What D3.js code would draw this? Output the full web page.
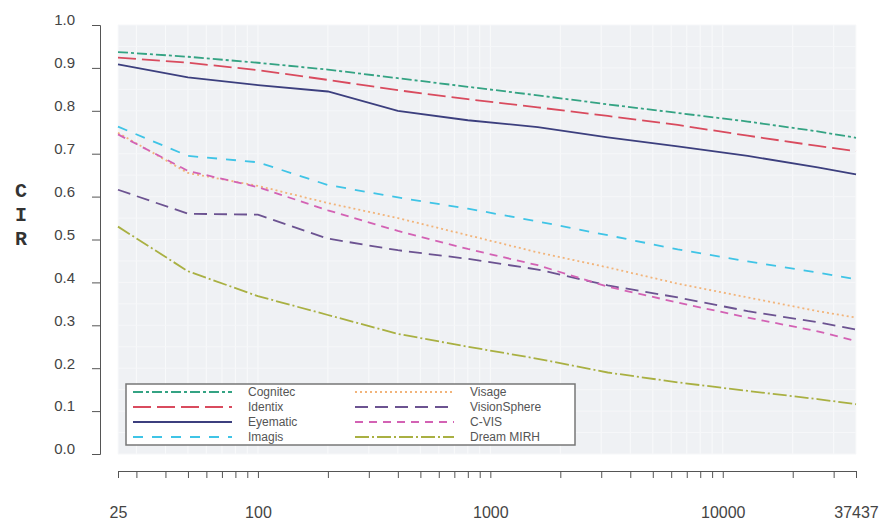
<!DOCTYPE html>
<html>
<head>
<meta charset="utf-8">
<script src="https://cdn.jsdelivr.net/npm/d3@7"></script>
<style>
  body { margin: 0; background: #fff; }
  .axis text { font-family: "Liberation Sans", Arial, sans-serif; fill: #444; }
  .axis path, .axis line { stroke: #555; }
</style>
</head>
<body>
<svg id="chart" width="882" height="526"></svg>
<script>
// gallery size (rank)
var ranks = [25, 50, 100, 200, 400, 800, 1600, 3200, 6400, 12800, 25600, 37437];

// CIR per system
var cognitec     = [0.937, 0.926, 0.912, 0.896, 0.876, 0.856, 0.836, 0.815, 0.795, 0.775, 0.752, 0.737];
var identix      = [0.924, 0.912, 0.895, 0.872, 0.848, 0.827, 0.808, 0.788, 0.767, 0.742, 0.718, 0.706];
var eyematic     = [0.908, 0.878, 0.860, 0.845, 0.800, 0.778, 0.762, 0.738, 0.717, 0.695, 0.668, 0.652];
var imagis       = [0.763, 0.695, 0.680, 0.627, 0.598, 0.572, 0.542, 0.510, 0.477, 0.449, 0.423, 0.407];
var visage       = [0.749, 0.655, 0.625, 0.585, 0.550, 0.510, 0.470, 0.435, 0.397, 0.365, 0.333, 0.318];
var visionsphere = [0.616, 0.560, 0.558, 0.502, 0.475, 0.455, 0.430, 0.393, 0.365, 0.333, 0.307, 0.290];
var cvis         = [0.745, 0.660, 0.622, 0.568, 0.520, 0.478, 0.440, 0.390, 0.353, 0.318, 0.286, 0.263];
var dreamMirh    = [0.530, 0.426, 0.368, 0.324, 0.280, 0.250, 0.222, 0.190, 0.167, 0.147, 0.128, 0.116];

var names = ["Cognitec", "Identix", "Eyematic", "Imagis", "Visage", "VisionSphere", "C-VIS", "Dream MIRH"];

// axis ticks
var yTicks = [0, 0.1, 0.2, 0.3, 0.4, 0.5, 0.6, 0.7, 0.8, 0.9, 1.0];
var xTicks = [25, 30, 40, 50, 60, 70, 80, 90, 100, 200, 300, 400, 500, 600, 700, 800, 900,
              1000, 2000, 3000, 4000, 5000, 6000, 7000, 8000, 9000, 10000, 20000, 30000, 37437];
var xLabels = [25, 100, 1000, 10000, 37437];

var series = [cognitec, identix, eyematic, imagis, visage, visionsphere, cvis, dreamMirh];
var colors = ["#34a383", "#d94b5e", "#3c3f7e", "#3fc4e6", "#f2b47a", "#6c5391", "#d362b4", "#a9b042"];
var dashes = ["10,3,3,3", "18,6", null, "10,9", "2,3", "13,7", "8,6", "14,3,2,3"];

var svg = d3.select("#chart");

var x = d3.scaleLog().domain([25, 37437]).range([118, 856]);
var y = d3.scaleLinear().domain([0, 1]).range([454, 25]);

// plot background
svg.append("rect")
    .attr("x", x(25)).attr("y", y(1))
    .attr("width", x(37437) - x(25))
    .attr("height", y(0) - y(1))
    .attr("fill", "#eff1f4");

// faint grid
svg.append("g").selectAll("line")
    .data(xTicks)
  .enter().append("line")
    .attr("x1", function(d){ return x(d); }).attr("x2", function(d){ return x(d); })
    .attr("y1", y(1)).attr("y2", y(0))
    .attr("stroke", "#f9fafb").attr("stroke-width", 1);

svg.append("g").selectAll("line")
    .data(d3.range(0, 1.0001, 0.05))
  .enter().append("line")
    .attr("x1", x(25)).attr("x2", x(37437))
    .attr("y1", function(d){ return y(d); }).attr("y2", function(d){ return y(d); })
    .attr("stroke", "#f6f7f9").attr("stroke-width", 1);

// Y axis
var yAxis = svg.append("g")
    .attr("class", "axis")
    .attr("transform", "translate(100,0)")
    .call(d3.axisLeft(y).tickValues(yTicks).tickSize(8).tickSizeOuter(8).tickPadding(17)
        .tickFormat(d3.format(".1f")));
yAxis.selectAll("text").attr("font-size", "15px").attr("y", -5);

// X axis
var xAxis = svg.append("g")
    .attr("class", "axis")
    .attr("transform", "translate(0,471)")
    .call(d3.axisBottom(x).tickValues(xTicks).tickSize(7).tickSizeOuter(7).tickPadding(29)
        .tickFormat(function(d){ return xLabels.indexOf(d) >= 0 ? d : ""; }));
xAxis.selectAll("text").attr("font-size", "16px");

// Y label, stacked letters
svg.append("g").selectAll("text")
    .data(["C", "I", "R"])
  .enter().append("text")
    .attr("x", 21)
    .attr("y", function(d, i){ return 197 + i * 24; })
    .attr("text-anchor", "middle")
    .attr("font-family", "Liberation Mono, Courier New, monospace")
    .attr("font-weight", "bold")
    .attr("font-size", "20px")
    .attr("fill", "#333")
    .text(function(d){ return d; });

// lines
var line = d3.line()
    .x(function(d, i){ return x(ranks[i]); })
    .y(function(d){ return y(d); });

svg.append("g").selectAll("path")
    .data(series)
  .enter().append("path")
    .attr("d", line)
    .attr("fill", "none")
    .attr("stroke", function(d, i){ return colors[i]; })
    .attr("stroke-width", 1.8)
    .attr("stroke-dasharray", function(d, i){ return dashes[i]; });

// legend
var legend = svg.append("g");
legend.append("rect")
    .attr("x", 126).attr("y", 384)
    .attr("width", 449).attr("height", 61)
    .attr("fill", "#fff")
    .attr("stroke", "#777").attr("stroke-width", 1.5);

var items = legend.selectAll("g.item")
    .data(names)
  .enter().append("g")
    .attr("class", "item")
    .attr("transform", function(d, i){
        var col = Math.floor(i / 4), row = i % 4;
        return "translate(" + (col === 0 ? 133 : 355) + "," + (392 + row * 15) + ")";
    });

items.append("line")
    .attr("x1", 0).attr("x2", 99)
    .attr("stroke", function(d, i){ return colors[i]; })
    .attr("stroke-width", 1.8)
    .attr("stroke-dasharray", function(d, i){ return dashes[i]; });

items.append("text")
    .attr("x", 115)
    .attr("dy", "0.35em")
    .attr("font-family", "Liberation Sans, Arial, sans-serif")
    .attr("font-size", "12px")
    .attr("fill", "#555")
    .text(function(d){ return d; });
</script>
</body>
</html>
